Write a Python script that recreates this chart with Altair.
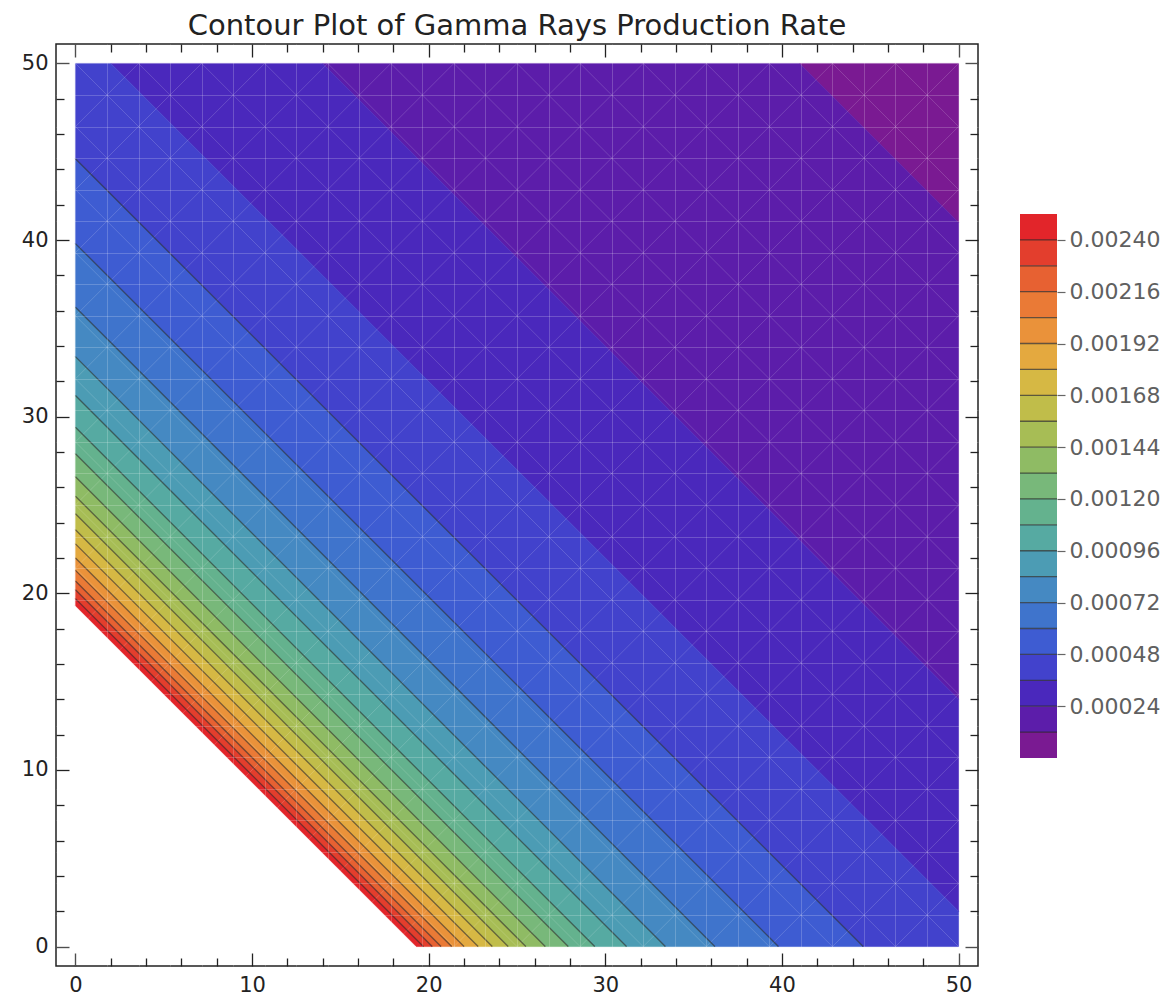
import altair as alt
import pandas as pd

# ---- data ----
# contour levels (value of the colour bar boundaries)
LEVELS = [0.0, 0.00012, 0.00024, 0.00036, 0.00048, 0.00060, 0.00072, 0.00084,
          0.00096, 0.00108, 0.00120, 0.00132, 0.00144, 0.00156, 0.00168,
          0.00180, 0.00192, 0.00204, 0.00216, 0.00228, 0.00240, 0.00252]
# position of each level line, given as x + y (lines run at -45 degrees);
# first entry is the far corner (x=50, y=50) where the lowest band ends
S_AT_LEVEL = [100.0, 91.0, 64.0, 52.0, 44.6, 39.8, 36.2, 33.4, 31.2, 29.4,
              27.9, 26.6, 25.5, 24.5, 23.6, 22.8, 22.0, 21.3, 20.7, 20.2,
              19.7, 19.3]
# colour of each band, from lowest value to highest
BAND_COLORS = ["#7a1a92", "#5c1daa", "#4a28bc", "#4242cc", "#3e5cd2",
               "#3f74cc", "#4589c2", "#4c9cb4", "#56aaa2", "#64b28e",
               "#78b87a", "#8fbb64", "#a7bd55", "#c0bd4a", "#d6b844",
               "#e4a93f", "#ea923a", "#ea7a36", "#e76132", "#e33e2d",
               "#e2252a"]
CB_TICKS = [0.00024, 0.00048, 0.00072, 0.00096, 0.00120, 0.00144, 0.00168,
            0.00192, 0.00216, 0.00240]
MAJOR_TICKS = [0, 10, 20, 30, 40, 50]
MINOR_TICKS = [2, 4, 6, 8, 12, 14, 16, 18, 22, 24, 26, 28, 32, 34, 36, 38,
               42, 44, 46, 48]
MESH_STEP = 50 / 28          # spacing of the faint white mesh of the plot
LINED_LEVELS = list(range(4, 21))   # levels that show a dark contour line

X_MIN, X_MAX = 0.0, 50.0
DOM = [-1.1, 51.1]
W = H = 922

# ---- build band polygons ----
band_rows = []
for b in range(len(BAND_COLORS)):
    s_hi = S_AT_LEVEL[b]
    s_lo = S_AT_LEVEL[b + 1]
    xa = max(X_MIN, s_lo - X_MAX)
    xb = min(X_MAX, s_hi)
    cand = [xa, xb] + [v for v in (s_lo - X_MAX, s_hi - X_MAX, s_lo, s_hi) if xa < v < xb]
    for x in sorted(set(cand)):
        band_rows.append({"band": b, "x": x,
                          "y": max(X_MIN, s_lo - x), "y2": min(X_MAX, s_hi - x)})
bands = pd.DataFrame(band_rows)

line_rows = []
for k in LINED_LEVELS:
    s = S_AT_LEVEL[k]
    line_rows.append({"k": k, "x": max(X_MIN, s - X_MAX), "y": min(X_MAX, s),
                      "x2": min(X_MAX, s), "y2": max(X_MIN, s - X_MAX)})
lines = pd.DataFrame(line_rows)

mesh_vals = [i * MESH_STEP for i in range(29)]

# diagonal mesh lines (both directions), clipped to the data square
diag_rows = []
for i in range(1, 28):
    c = i * 2 * MESH_STEP            # x + y = c
    if c >= 100:
        break
    diag_rows.append({"x": max(X_MIN, c - X_MAX), "y": min(X_MAX, c),
                      "x2": min(X_MAX, c), "y2": max(X_MIN, c - X_MAX)})
for i in range(-13, 14):
    d = i * 2 * MESH_STEP            # x - y = d
    diag_rows.append({"x": max(X_MIN, d), "y": max(X_MIN, -d),
                      "x2": min(X_MAX, X_MAX + d), "y2": min(X_MAX, X_MAX - d)})
diags = pd.DataFrame(diag_rows)

color_scale = alt.Scale(domain=list(range(len(BAND_COLORS))), range=BAND_COLORS)
xs = alt.Scale(domain=DOM, nice=False, zero=False)
ys = alt.Scale(domain=DOM, nice=False, zero=False)

FONT = "DejaVu Sans"
INK = "#222222"


def ax(orient, values, size, labels=False):
    return alt.Axis(orient=orient, values=values, tickSize=size, offset=-size,
                    domain=False, grid=False, labels=labels, title=None,
                    tickColor=INK, tickWidth=1.3, labelFont=FONT,
                    labelFontSize=21, labelColor=INK, labelPadding=8,
                    labelFlush=False)


band_layer = alt.Chart(bands).mark_area(strokeWidth=0.6).encode(
    x=alt.X("x:Q", scale=xs, axis=ax("bottom", MAJOR_TICKS, 13, True)),
    y=alt.Y("y:Q", scale=ys, axis=ax("left", MAJOR_TICKS, 13, True)),
    y2="y2:Q",
    color=alt.Color("band:O", scale=color_scale, legend=None),
    stroke=alt.Stroke("band:O", scale=color_scale, legend=None),
)

diag_layer = alt.Chart(diags).mark_rule(color="white", opacity=0.16, strokeWidth=1).encode(
    x=alt.X("x:Q", scale=xs, axis=None),
    y=alt.Y("y:Q", scale=ys, axis=None),
    x2="x2:Q", y2="y2:Q",
)

line_layer = alt.Chart(lines).mark_rule(color="#262626", opacity=0.6, strokeWidth=1.3).encode(
    x=alt.X("x:Q", scale=xs, axis=ax("top", MAJOR_TICKS, 13)),
    y=alt.Y("y:Q", scale=ys, axis=ax("right", MAJOR_TICKS, 13)),
    x2="x2:Q", y2="y2:Q",
)

minor1 = alt.Chart(lines).mark_rule(opacity=0).encode(
    x=alt.X("x:Q", scale=xs, axis=ax("bottom", MINOR_TICKS, 8)),
    y=alt.Y("y:Q", scale=ys, axis=ax("left", MINOR_TICKS, 8)),
)
minor2 = alt.Chart(lines).mark_rule(opacity=0).encode(
    x=alt.X("x:Q", scale=xs, axis=ax("top", MINOR_TICKS, 8)),
    y=alt.Y("y:Q", scale=ys, axis=ax("right", MINOR_TICKS, 8)),
)


def grid_axis(orient):
    return alt.Axis(orient=orient, values=mesh_vals, grid=True, ticks=False,
                    labels=False, domain=False, title=None, gridColor="white",
                    gridOpacity=0.2, gridWidth=1, zindex=1)


grid_layer = alt.Chart(lines).mark_rule(opacity=0).encode(
    x=alt.X("x:Q", scale=xs, axis=grid_axis("bottom")),
    y=alt.Y("y:Q", scale=ys, axis=grid_axis("left")),
)

# ---- colour bar (drawn to the right of the plot, own scales) ----
CB_LEFT, CB_RIGHT = 964.0, 1001.0      # pixel placement relative to plot
CB_TOP, CB_BOTTOM = 170.0, 714.0
vmax = LEVELS[-1]
xspan = W / (CB_RIGHT - CB_LEFT)
cbx_dom = [-CB_LEFT / (CB_RIGHT - CB_LEFT), -CB_LEFT / (CB_RIGHT - CB_LEFT) + xspan]
per_px = vmax / (CB_BOTTOM - CB_TOP)
cby_dom = [-(H - CB_BOTTOM) * per_px, vmax + CB_TOP * per_px]

cb = pd.DataFrame({"band": list(range(len(BAND_COLORS))),
                   "lo": LEVELS[:-1], "hi": LEVELS[1:],
                   "x0": 0.0, "x1": 1.0})
cb_lines = pd.DataFrame({"v": LEVELS[1:-1], "x0": 0.0, "x1": 1.0})

cbx = alt.Scale(domain=cbx_dom, nice=False, zero=False)
cby = alt.Scale(domain=cby_dom, nice=False, zero=False)

cb_layer = alt.Chart(cb).mark_rect().encode(
    x=alt.X("x0:Q", scale=cbx, axis=None),
    x2="x1:Q",
    y=alt.Y("lo:Q", scale=cby,
            axis=alt.Axis(orient="right", offset=CB_RIGHT - W, values=CB_TICKS,
                          format=".5f", domain=False, grid=False, title=None,
                          tickSize=8, tickColor="#666666", tickWidth=1.2,
                          labelFont=FONT, labelFontSize=22, labelColor="#606060",
                          labelPadding=4)),
    y2="hi:Q",
    color=alt.Color("band:O", scale=color_scale, legend=None),
)
cb_line_layer = alt.Chart(cb_lines).mark_rule(color="#2a2a2a", opacity=0.7, strokeWidth=1.3).encode(
    x=alt.X("x0:Q", scale=cbx, axis=None),
    x2="x1:Q",
    y=alt.Y("v:Q", scale=cby, axis=None),
)

chart = alt.layer(
    band_layer, diag_layer, line_layer, minor1, minor2, grid_layer,
    cb_layer, cb_line_layer
).resolve_scale(
    x="independent", y="independent"
).properties(
    width=W, height=H,
    title=alt.Title("Contour Plot of Gamma Rays Production Rate", font=FONT,
                    fontSize=29, fontWeight="normal", color=INK,
                    frame="group", anchor="middle", offset=2),
    padding={"left": 13, "top": 4, "right": 2, "bottom": 2},
).configure_view(stroke=INK, strokeWidth=1.5)

chart.save("out.html", embed_options={"renderer": "svg", "actions": False})
